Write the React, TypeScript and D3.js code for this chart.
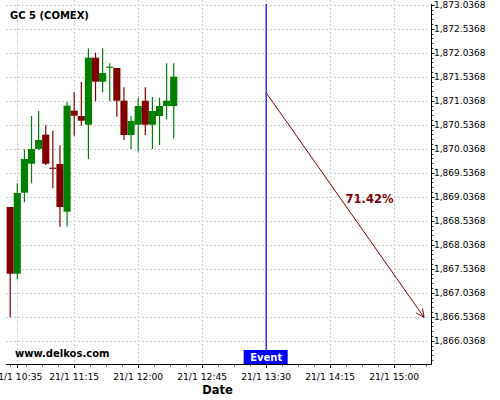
import React from "react";
import * as d3 from "d3";

const title = "GC 5 (COMEX)";
const watermark = "www.delkos.com";
const xTitle = "Date";
const eventLabel = "Event";
const pctLabel = "71.42%";

const candleTimes = ["10:30","10:35","10:40","10:45","10:50","10:55","11:00","11:05","11:10","11:15","11:20","11:25","11:30","11:35","11:40","11:45","11:50","11:55","12:00","12:05","12:10","12:15","12:20","12:25"];
const opens = [1868.822,1867.433,1869.120,1869.724,1870.031,1870.329,1869.629,1869.718,1868.724,1870.829,1870.718,1870.537,1871.933,1871.433,1871.733,1871.718,1871.037,1870.322,1870.537,1871.037,1870.537,1870.718,1870.926,1870.926];
const highs = [1868.822,1869.316,1870.024,1870.718,1870.822,1870.524,1870.412,1870.108,1871.016,1871.212,1871.427,1872.129,1872.037,1872.129,1871.816,1871.718,1871.316,1870.718,1871.099,1871.316,1871.114,1871.099,1871.816,1871.816];
const lows = [1866.524,1867.316,1868.920,1869.316,1870.010,1869.697,1869.212,1868.412,1868.412,1870.308,1870.516,1869.822,1871.024,1871.212,1871.024,1870.704,1870.218,1870.031,1869.974,1870.322,1870.031,1870.114,1870.650,1870.250];
const closes = [1867.433,1869.114,1869.822,1870.031,1870.218,1869.724,1869.627,1868.822,1870.933,1870.724,1870.620,1871.933,1871.433,1871.614,1871.735,1871.037,1870.322,1870.614,1870.926,1870.537,1870.822,1870.926,1871.037,1871.537];

const xTickTimes = ["10:35","11:15","12:00","12:45","13:30","14:15","15:00"];
const xTickLabels = ["21/1 10:35","21/1 11:15","21/1 12:00","21/1 12:45","21/1 13:30","21/1 14:15","21/1 15:00"];
const yTickValues = [1866.0368,1866.5368,1867.0368,1867.5368,1868.0368,1868.5368,1869.0368,1869.5368,1870.0368,1870.5368,1871.0368,1871.5368,1872.0368,1872.5368,1873.0368];

const eventTime = "13:30";
const arrowStart = { time: "13:30", value: 1871.203 };
const arrowEnd = { time: "15:21", value: 1866.524 };

const toMin = (s: string) => {
  const [h, m] = s.split(":").map(Number);
  return h * 60 + m;
};

const W = 500, H = 400;
const plotL = 6, plotR = 431, plotT = 4, plotB = 364;

const x = d3.scaleLinear().domain([627.05, 925.9]).range([plotL, plotR]);
const y = d3.scaleLinear().domain([1865.5514, 1873.0514]).range([plotB, plotT]);

const GREEN = "#008000";
const RED = "#800000";
const FONT = "DejaVu Sans";

export default function App() {
  const pitch = x(5) - x(0);
  const bw = pitch;
  const fmt = d3.format(",.4f");

  const minorY: number[] = [];
  for (let v = 1865.6368; v <= 1873.04; v += 0.1) minorY.push(v);
  const minorX: number[] = [];
  for (let t = 630; t <= 925; t += 11.25) minorX.push(t);

  const ax1 = x(toMin(arrowStart.time)), ay1 = y(arrowStart.value);
  const ax2 = x(toMin(arrowEnd.time)), ay2 = y(arrowEnd.value);
  const ang = Math.atan2(ay2 - ay1, ax2 - ax1);
  const headLen = 9;
  const hA = Math.PI / 7;
  const h1x = ax2 - headLen * Math.cos(ang - hA), h1y = ay2 - headLen * Math.sin(ang - hA);
  const h2x = ax2 - headLen * Math.cos(ang + hA), h2y = ay2 - headLen * Math.sin(ang + hA);
  const midX = (ax1 + ax2) / 2, midY = (ay1 + ay2) / 2;
  const ex = x(toMin(eventTime));

  return (
    <svg width={W} height={H} style={{ position: "absolute", left: 0, top: 0, background: "#fff" }} fontFamily={FONT}>
      <rect x={0} y={0} width={W} height={H} fill="#fff" />
      {/* grid */}
      {xTickTimes.map((t, i) => (
        <line key={"gx" + i} x1={Math.round(x(toMin(t))) + 0.5} x2={Math.round(x(toMin(t))) + 0.5} y1={0} y2={plotB} stroke="#c8c8c8" strokeDasharray="2,2" />
      ))}
      {yTickValues.map((v, i) => (
        <line key={"gy" + i} x1={plotL} x2={plotR} y1={Math.round(y(v)) + 0.5} y2={Math.round(y(v)) + 0.5} stroke="#c8c8c8" strokeDasharray="2,2" />
      ))}
      {/* candles */}
      {candleTimes.map((t, i) => {
        const cx = x(toMin(t));
        const o = opens[i], c = closes[i];
        const up = c >= o;
        const col = up ? GREEN : RED;
        const top = y(Math.max(o, c));
        const bot = y(Math.min(o, c));
        const bh = Math.max(1.2, bot - top);
        return (
          <g key={"c" + i}>
            <line x1={cx} x2={cx} y1={y(highs[i])} y2={y(lows[i])} stroke={col} strokeWidth={1.2} />
            <rect x={cx - bw / 2} y={bh <= 1.2 ? top - 0.6 : top} width={bw} height={bh} fill={col} />
          </g>
        );
      })}
      {/* event line */}
      <line x1={ex} x2={ex} y1={plotT} y2={plotB} stroke="#0000ff" strokeWidth={1.2} />
      <rect x={ex - 22.5} y={plotB - 14} width={44} height={14} fill="#0000ff" />
      <text x={ex} y={plotB - 3} textAnchor="middle" fill="#fff" fontWeight="bold" fontSize={10}>{eventLabel}</text>
      {/* arrow */}
      <line x1={ax1} y1={ay1} x2={ax2} y2={ay2} stroke={RED} strokeWidth={1} />
      <path d={`M${h1x},${h1y}L${ax2},${ay2}L${h2x},${h2y}`} fill="none" stroke={RED} strokeWidth={1} />
      <text x={midX + 0.5} y={midY - 2} fill={RED} fontWeight="bold" fontSize={11.5}>{pctLabel}</text>
      {/* axes */}
      <line x1={plotR + 0.5} x2={plotR + 0.5} y1={plotT} y2={plotB + 0.5} stroke="#000" />
      <line x1={plotL} x2={plotR + 0.5} y1={plotB + 0.5} y2={plotB + 0.5} stroke="#000" />
      {minorY.map((v, i) => (
        <line key={"my" + i} x1={plotR} x2={plotR + 2.5} y1={Math.round(y(v)) + 0.5} y2={Math.round(y(v)) + 0.5} stroke="#000" strokeWidth={0.7} />
      ))}
      {yTickValues.map((v, i) => (
        <g key={"yt" + i}>
          <line x1={plotR} x2={plotR + 3.5} y1={Math.round(y(v)) + 0.5} y2={Math.round(y(v)) + 0.5} stroke="#000" />
          <text x={plotR + 3} y={y(v)} dy="0.35em" fontSize={9} fill="#000">{fmt(v)}</text>
        </g>
      ))}
      {minorX.map((t, i) => (
        <line key={"mx" + i} x1={Math.round(x(t)) + 0.5} x2={Math.round(x(t)) + 0.5} y1={plotB} y2={plotB + 2.5} stroke="#000" strokeWidth={0.7} />
      ))}
      {xTickTimes.map((t, i) => (
        <g key={"xt" + i}>
          <line x1={Math.round(x(toMin(t))) + 0.5} x2={Math.round(x(toMin(t))) + 0.5} y1={plotB} y2={plotB + 4} stroke="#000" />
          <text x={x(toMin(t))} y={379.5} textAnchor="middle" fontSize={9.2} fill="#000">{xTickLabels[i]}</text>
        </g>
      ))}
      <text x={(plotL + plotR) / 2 - 1} y={394} textAnchor="middle" fontWeight="bold" fontSize={11.5} fill="#000">{xTitle}</text>
      <text x={10} y={19.3} fontWeight="bold" fontSize={10} fill="#000">{title}</text>
      <text x={15} y={357} fontWeight="bold" fontSize={10} fill="#000">{watermark}</text>
    </svg>
  );
}
